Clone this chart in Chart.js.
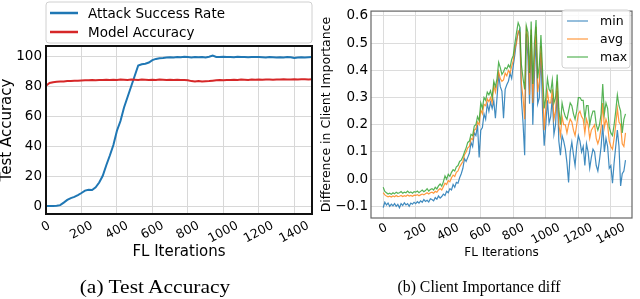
<!DOCTYPE html>
<html><head><meta charset="utf-8">
<script src="https://cdn.jsdelivr.net/npm/chart.js@4"></script>
<style>
html,body{margin:0;padding:0;background:#fff;width:640px;height:299px;overflow:hidden;}
canvas{position:absolute;top:0;}
#ca{left:0;} #cb{left:320px;}
.cap{position:absolute;font-family:"Liberation Serif","Times New Roman",serif;color:#000;white-space:nowrap;line-height:1;}
</style></head><body>
<canvas id="ca" width="320" height="299"></canvas>
<canvas id="cb" width="320" height="299"></canvas>
<div class="cap" style="left:155px;top:277px;font-size:19.5px;transform:translateX(-50%) scaleX(1.1)">(a) Test Accuracy</div>
<div class="cap" style="left:479px;top:278px;font-size:17.5px;transform:translateX(-50%) scaleX(0.9)">(b) Client Importance diff</div>
<script>
// ---------- Figure (a) ----------
const ITER_A = [0,20,40,60,80,100,120,140,160,180,200,220,240,260,280,300,320,340,360,380,400,420,440,460,480,500,520,540,560,580,600,620,640,660,680,700,720,740,760,780,800,820,840,860,880,900,920,940,960,980,1000,1020,1040,1060,1080,1100,1120,1140,1160,1180,1200,1220,1240,1260,1280,1300,1320,1340,1360,1380,1400,1420,1440,1460,1480,1500];
const ASR = [0.3,0.4,0.3,0.5,0.9,2.6,4.4,5.6,6.4,7.6,
  9.0,10.6,11.2,11.0,12.8,16.0,20.5,27.5,34.0,41.0,
  50.5,57.0,66.0,73.0,80.0,87.0,94.0,94.8,95.2,96.0,
  97.6,98.4,98.9,99.0,99.3,99.5,99.4,99.7,99.5,99.8,
  99.6,99.4,99.7,99.5,99.6,99.4,99.8,100.6,99.7,99.6,
  99.8,99.6,99.7,99.5,99.8,99.6,99.7,99.5,99.6,99.7,
  99.6,99.5,99.4,99.6,99.5,99.3,99.5,99.4,99.6,99.5,
  99.0,99.3,99.5,99.4,99.5,99.6];
const ACC = [80.5,82.3,82.8,83.1,83.4,83.3,83.6,83.7,83.9,83.8,
  84.0,84.2,84.1,84.3,84.2,84.4,84.3,84.5,84.4,84.5,
  84.4,84.6,84.5,84.4,84.6,84.5,84.4,84.6,84.5,84.4,
  84.5,84.4,84.6,84.5,84.3,84.5,84.4,84.5,84.3,84.4,
  84.2,83.6,83.4,83.7,83.3,83.5,83.6,83.9,84.1,84.3,
  84.2,84.4,84.3,84.5,84.4,84.6,84.5,84.4,84.6,84.5,
  84.6,84.5,84.7,84.6,84.5,84.7,84.6,84.8,84.7,84.6,
  84.8,84.7,84.9,84.8,84.7,84.8];
const X_TICKS_A = [0,200,400,600,800,1000,1200,1400];
const Y_TICKS_A = [0,20,40,60,80,100];
const LEGEND_A = ['Attack Success Rate','Model Accuracy'];

// ---------- Figure (b) ----------
const ITER_B = [0,10,20,30,40,50,60,70,80,90,100,110,120,130,140,150,160,170,180,190,200,210,220,230,240,250,260,270,280,290,300,310,320,330,340,350,360,370,380,390,400,410,420,430,440,450,460,470,480,490,500,510,520,530,540,550,560,570,580,590,600,610,620,630,640,650,660,670,680,690,700,710,720,730,740,750,760,770,780,790,800,810,820,830,840,850,860,870,880,890,900,910,920,930,940,950,960,970,980,990,1000,1010,1020,1030,1040,1050,1060,1070,1080,1090,1100,1110,1120,1130,1140,1150,1160,1170,1180,1190,1200,1210,1220,1230,1240,1250,1260,1270,1280,1290,1300,1310,1320,1330,1340,1350,1360,1370,1380,1390,1400,1410,1420,1430,1440,1450,1460,1470,1480,1490];
const MIN_B = [-0.105,-0.085,-0.095,-0.088,-0.1,-0.092,-0.098,-0.09,-0.1,-0.093,
  -0.105,-0.09,-0.097,-0.087,-0.095,-0.09,-0.1,-0.088,-0.092,-0.085,
  -0.09,-0.083,-0.088,-0.08,-0.085,-0.075,-0.082,-0.078,-0.084,-0.072,
  -0.075,-0.08,-0.068,-0.074,-0.062,-0.07,-0.064,-0.055,-0.06,-0.045,
  -0.05,-0.035,-0.04,-0.02,-0.03,-0.012,-0.015,0.005,0.02,0.04,
  0.075,0.065,0.08,0.095,0.135,0.12,0.17,0.16,0.2,0.08,
  0.18,0.19,0.24,0.22,0.277,0.25,0.283,0.26,0.288,0.224,
  0.3,0.383,0.34,0.324,0.224,0.33,0.347,0.36,0.389,0.37,
  0.418,0.46,0.512,0.536,0.55,0.294,0.206,0.088,0.535,0.45,
  0.277,0.53,0.2,0.38,0.524,0.277,0.3,0.465,0.25,0.123,
  0.2,0.29,0.206,0.23,0.3,0.165,0.2,0.324,0.14,0.088,
  0.16,0.14,0.11,0.06,-0.012,0.1,0.136,0.09,0.05,0.12,
  0.16,0.14,0.1,0.12,0.05,0.13,0.1,0.04,0.08,0.11,
  0.1,0.05,0.03,0.07,0.12,0.2,0.1,0.15,0.12,0.04,
  0.05,-0.015,0.06,0.12,0.18,0.12,-0.025,0.02,0.03,0.07];
const AVG_B = [-0.05,-0.058,-0.062,-0.065,-0.063,-0.066,-0.062,-0.065,-0.06,-0.064,
  -0.063,-0.06,-0.064,-0.061,-0.063,-0.058,-0.062,-0.06,-0.063,-0.059,
  -0.06,-0.057,-0.061,-0.058,-0.055,-0.058,-0.054,-0.05,-0.055,-0.05,
  -0.048,-0.052,-0.045,-0.048,-0.04,-0.035,-0.04,-0.028,-0.015,-0.02,
  -0.005,-0.01,0.005,0.015,0.01,0.025,0.03,0.045,0.055,0.065,
  0.09,0.1,0.115,0.12,0.15,0.145,0.18,0.185,0.21,0.2,
  0.255,0.24,0.275,0.27,0.295,0.285,0.3,0.28,0.345,0.32,
  0.35,0.395,0.37,0.36,0.365,0.39,0.38,0.4,0.39,0.415,
  0.436,0.48,0.5,0.545,0.54,0.35,0.3,0.22,0.55,0.52,
  0.31,0.55,0.28,0.45,0.56,0.32,0.36,0.49,0.35,0.18,
  0.26,0.32,0.28,0.28,0.33,0.22,0.25,0.36,0.2,0.16,
  0.23,0.2,0.2,0.17,0.2,0.22,0.21,0.18,0.16,0.2,
  0.24,0.25,0.23,0.22,0.17,0.22,0.2,0.15,0.18,0.19,
  0.2,0.15,0.13,0.15,0.19,0.28,0.19,0.22,0.2,0.14,
  0.12,0.11,0.15,0.2,0.26,0.21,0.2,0.13,0.12,0.17];
const MAX_B = [-0.03,-0.045,-0.05,-0.055,-0.052,-0.056,-0.05,-0.054,-0.048,-0.052,
  -0.05,-0.046,-0.052,-0.048,-0.05,-0.044,-0.05,-0.047,-0.052,-0.046,
  -0.048,-0.044,-0.05,-0.045,-0.04,-0.046,-0.042,-0.035,-0.044,-0.038,
  -0.035,-0.04,-0.03,-0.036,-0.025,-0.018,-0.026,-0.01,0.012,0.0,
  0.018,0.01,0.025,0.035,0.03,0.045,0.05,0.065,0.07,0.082,
  0.1,0.115,0.135,0.14,0.165,0.16,0.195,0.2,0.23,0.215,
  0.28,0.26,0.3,0.29,0.32,0.31,0.325,0.3,0.36,0.34,
  0.37,0.43,0.41,0.385,0.395,0.41,0.405,0.42,0.41,0.44,
  0.455,0.5,0.54,0.575,0.56,0.42,0.37,0.33,0.565,0.54,
  0.39,0.58,0.35,0.5,0.585,0.37,0.42,0.53,0.4,0.26,
  0.3,0.37,0.33,0.32,0.365,0.28,0.3,0.385,0.26,0.2,
  0.28,0.25,0.23,0.22,0.25,0.28,0.27,0.24,0.22,0.25,
  0.3,0.3,0.29,0.29,0.22,0.27,0.27,0.2,0.23,0.25,
  0.25,0.2,0.18,0.2,0.24,0.35,0.24,0.28,0.26,0.19,
  0.17,0.16,0.2,0.25,0.31,0.27,0.25,0.17,0.22,0.24];
const X_TICKS_B = [0,200,400,600,800,1000,1200,1400];
const Y_TICKS_B = [-0.1,0.0,0.1,0.2,0.3,0.4,0.5,0.6];
const LEGEND_B = ['min','avg','max'];

const FONT = '"DejaVu Sans", Verdana, sans-serif';
const pts = (xs, ys) => xs.map((x, i) => ({x, y: ys[i]}));

// frame around plot area
const framePlugin = {
  id: 'frame',
  afterDraw(chart, args, o) {
    const a = chart.chartArea, ctx = chart.ctx;
    ctx.save(); ctx.strokeStyle = o.color; ctx.lineWidth = o.width;
    ctx.strokeRect(a.left, a.top, a.right - a.left, a.bottom - a.top);
    ctx.restore();
  }
};
// rotated, centred x tick labels (matplotlib style)
const rotLabels = {
  id: 'rotLabels',
  afterDraw(chart, args, o) {
    const s = chart.scales.x, ctx = chart.ctx;
    const th = o.angle * Math.PI / 180;
    ctx.save(); ctx.font = o.font; ctx.fillStyle = '#000';
    ctx.textAlign = 'center'; ctx.textBaseline = 'middle';
    s.ticks.forEach(t => {
      const txt = String(t.value);
      const w = ctx.measureText(txt).width, h = o.h;
      const rh = w * Math.sin(th) + h * Math.cos(th);
      ctx.save();
      ctx.translate(s.getPixelForValue(t.value), chart.chartArea.bottom + o.gap + rh / 2);
      ctx.rotate(-th);
      ctx.fillText(txt, 0, 0);
      ctx.restore();
    });
    ctx.restore();
  }
};
// legend box
const boxLegend = {
  id: 'boxLegend',
  afterDraw(chart, args, o) {
    const ctx = chart.ctx;
    ctx.save();
    ctx.beginPath();
    if (ctx.roundRect) ctx.roundRect(o.x, o.y, o.w, o.h, 3); else ctx.rect(o.x, o.y, o.w, o.h);
    ctx.fillStyle = 'rgba(255,255,255,0.85)'; ctx.fill();
    ctx.strokeStyle = '#d0d0d0'; ctx.lineWidth = 1; ctx.stroke();
    ctx.font = o.font; ctx.textBaseline = 'middle'; ctx.textAlign = 'left';
    o.items.forEach((it, i) => {
      const y = o.y0 + i * o.dy;
      ctx.strokeStyle = it.color; ctx.lineWidth = o.lw;
      ctx.beginPath(); ctx.moveTo(o.lx0, y); ctx.lineTo(o.lx1, y); ctx.stroke();
      ctx.fillStyle = '#000'; ctx.fillText(it.text, o.tx, y + 1);
    });
    ctx.restore();
  }
};

const ds = (label, xs, ys, color, w, order) => ({
  label, data: pts(xs, ys), borderColor: color, borderWidth: w,
  pointRadius: 0, tension: 0, fill: false, order
});

// ----- chart (a)
new Chart(document.getElementById('ca'), {
  type: 'line',
  data: { datasets: [
    ds(LEGEND_A[0], ITER_A, ASR, '#1f77b4', 2, 1),
    ds(LEGEND_A[1], ITER_A, ACC, '#d62728', 2, 0)
  ]},
  plugins: [framePlugin, rotLabels, boxLegend],
  options: {
    responsive: false, animation: false, events: [],
    layout: { padding: { top: 46, right: 8, left: 0, bottom: 38 } },
    plugins: {
      legend: { display: false }, tooltip: { enabled: false },
      frame: { color: '#111', width: 2 },
      rotLabels: { angle: 28, font: '12.5px ' + FONT, gap: 7, h: 9 },
      boxLegend: { x: 46, y: 2, w: 266, h: 41, font: '13.5px ' + FONT, lw: 2.5,
        y0: 13, dy: 19, lx0: 50, lx1: 78, tx: 88,
        items: [{text: LEGEND_A[0], color: '#1f77b4'}, {text: LEGEND_A[1], color: '#d62728'}] }
    },
    scales: {
      x: { type: 'linear', min: 0, max: 1500,
        afterBuildTicks: s => { s.ticks = X_TICKS_A.map(v => ({value: v})); },
        afterFit: s => { s.height = 47; },
        ticks: { display: false },
        grid: { color: '#d8d8d8', lineWidth: 1, drawTicks: false },
        border: { display: false },
        title: { display: true, text: 'FL Iterations', color: '#000', font: { family: FONT, size: 15 }, padding: 0 }
      },
      y: { min: -5, max: 107,
        afterBuildTicks: s => { s.ticks = Y_TICKS_A.map(v => ({value: v})); },
        afterFit: s => { s.width = 46; },
        ticks: { color: '#000', font: { family: FONT, size: 13.5 }, padding: 4 },
        grid: { color: '#d8d8d8', lineWidth: 1, drawTicks: false },
        border: { display: false },
        title: { display: true, text: 'Test Accuracy', color: '#000', font: { family: FONT, size: 15, lineHeight: 0.95 }, padding: 0 }
      }
    }
  }
});

// ----- chart (b)
new Chart(document.getElementById('cb'), {
  type: 'line',
  data: { datasets: [
    ds(LEGEND_B[0], ITER_B, MIN_B, 'rgba(31,119,180,0.85)', 1.2, 2),
    ds(LEGEND_B[1], ITER_B, AVG_B, 'rgba(255,127,14,0.8)', 1.2, 1),
    ds(LEGEND_B[2], ITER_B, MAX_B, 'rgba(44,160,44,0.8)', 1.2, 0)
  ]},
  plugins: [framePlugin, rotLabels, boxLegend],
  options: {
    responsive: false, animation: false, events: [],
    layout: { padding: { top: 5, right: 8, left: 0, bottom: 39 } },
    plugins: {
      legend: { display: false }, tooltip: { enabled: false },
      frame: { color: '#666', width: 1.2 },
      rotLabels: { angle: 28, font: '12px ' + FONT, gap: 5, h: 9 },
      boxLegend: { x: 242, y: 10, w: 68, h: 58, font: '12.5px ' + FONT, lw: 1.6,
        y0: 21, dy: 18, lx0: 247, lx1: 268, tx: 280,
        items: [{text: LEGEND_B[0], color: 'rgba(31,119,180,0.6)'}, {text: LEGEND_B[1], color: 'rgba(255,127,14,0.6)'}, {text: LEGEND_B[2], color: 'rgba(44,160,44,0.6)'}] }
    },
    scales: {
      x: { type: 'linear', min: -75, max: 1530,
        afterBuildTicks: s => { s.ticks = X_TICKS_B.map(v => ({value: v})); },
        afterFit: s => { s.height = 42; },
        ticks: { display: false },
        grid: { color: '#dcdcdc', lineWidth: 1, drawTicks: false },
        border: { display: false },
        title: { display: true, text: 'FL Iterations', color: '#000', font: { family: FONT, size: 12 }, padding: 0 }
      },
      y: { min: -0.143, max: 0.618,
        afterBuildTicks: s => { s.ticks = Y_TICKS_B.map(v => ({value: v})); },
        afterFit: s => { s.width = 51; },
        ticks: { color: '#000', font: { family: FONT, size: 13.5 }, padding: 3,
          callback: v => v.toFixed(1).replace('-', '\u2212') },
        grid: { color: '#dcdcdc', lineWidth: 1, drawTicks: false },
        border: { display: false },
        title: { display: true, text: 'Difference in Client Importance', color: '#000', font: { family: FONT, size: 12.5, lineHeight: 1.1 }, padding: 0 }
      }
    }
  }
});
</script>
</body></html>
